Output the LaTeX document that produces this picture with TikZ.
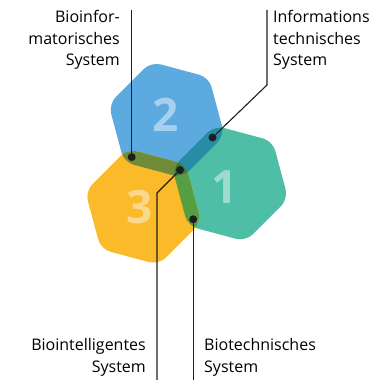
\documentclass[tikz,border=0pt]{standalone}
\usepackage{fontspec}
\setmainfont{Open Sans}
\usepackage{xcolor}
\usepackage{tikz}
\usetikzlibrary{calc, positioning}

\definecolor{hexblue}{RGB}{93,170,224}
\definecolor{hexteal}{RGB}{78,190,166}
\definecolor{hexyellow}{RGB}{250,186,42}
\definecolor{mixby}{RGB}{112,140,58}
\definecolor{mixty}{RGB}{86,158,66}
\definecolor{mixbt}{RGB}{40,140,165}
\definecolor{mixall}{RGB}{62,122,58}
\definecolor{leadgray}{RGB}{30,30,30}

% hexagon around a centre, corners at 45, 105, ... degrees
\newcommand{\hexagon}[1]{(#1) +(45:60) -- +(105:60) -- +(165:60) -- +(225:60) -- +(285:60) -- +(345:60) -- cycle}

\tikzset{
    hexa/.style={rounded corners=10pt},
    dot/.style={circle, fill=leadgray, inner sep=0pt, minimum size=8pt},
    caption/.style={font=\fontsize{16}{21.5}\selectfont, inner sep=0pt},
    num/.style={font=\fontsize{46}{46}\selectfont\bfseries, text=white, text opacity=0.45},
    lead/.style={draw=leadgray, line width=1.1pt}
}

\begin{document}
\begin{tikzpicture}[x=1pt, y=1pt]
    \useasboundingbox (0,0) rectangle (369,380);
    \coordinate (top) at (0,370);
    \coordinate (bottom) at (0,0);

    % meeting point and centres
    \coordinate (P) at (180,210);
    \coordinate (c1) at ($(P)+(345:52)$);
    \coordinate (c2) at ($(P)+(105:52)$);
    \coordinate (c3) at ($(P)+(225:52)$);

    % the three systems
    \fill[hexa, hexblue] \hexagon{c2};
    \fill[hexa, hexteal] \hexagon{c1};
    \fill[hexa, hexyellow] \hexagon{c3};

    % pairwise overlaps
    \begin{scope}
        \clip[hexa] \hexagon{c2};
        \fill[hexa, mixby] \hexagon{c3};
        \fill[hexa, mixbt] \hexagon{c1};
    \end{scope}
    \begin{scope}
        \clip[hexa] \hexagon{c1};
        \fill[hexa, mixty] \hexagon{c3};
    \end{scope}
    % all three
    \begin{scope}
        \clip[hexa] \hexagon{c1};
        \clip[hexa] \hexagon{c2};
        \fill[hexa, mixall] \hexagon{c3};
    \end{scope}

    \node[num] (n1) at (225,193) {1};
    \node[num] (n2) at (166,265) {2};
    \node[num] (n3) at (140,173) {3};

    % dots on the shared edges
    \node[dot] (d23) at ($(P)+(165:50)$) {};
    \node[dot] (d12) at ($(P)+(45:46)$) {};
    \node[dot] (d123) at (P) {};
    \node[dot] (d13) at ($(P)+(285:51)$) {};

    \coordinate (k12) at (267,295);
    \coordinate (k123) at (157,187);

    \draw[lead] (d23) -- (d23 |- top);
    \draw[lead] (d12) -- (k12) -- (k12 |- top);
    \draw[lead] (d123) -- (k123) -- (k123 |- bottom);
    \draw[lead] (d13) -- (d13 |- bottom);

    % labels, anchored on their last line
    \node[caption, align=right, anchor=base east] (bioinf) at (120,314) {Bioinfor-\\matorisches\\System};
    \node[caption, align=left, anchor=base west] (infotech) at (273,314) {Informations\\technisches\\System};
    \node[caption, align=right, anchor=base east] (biointel) at (146,8) {Biointelligentes\\System};
    \node[caption, align=left, anchor=base west] (biotech) at (204,8) {Biotechnisches\\System};
\end{tikzpicture}
\end{document}
